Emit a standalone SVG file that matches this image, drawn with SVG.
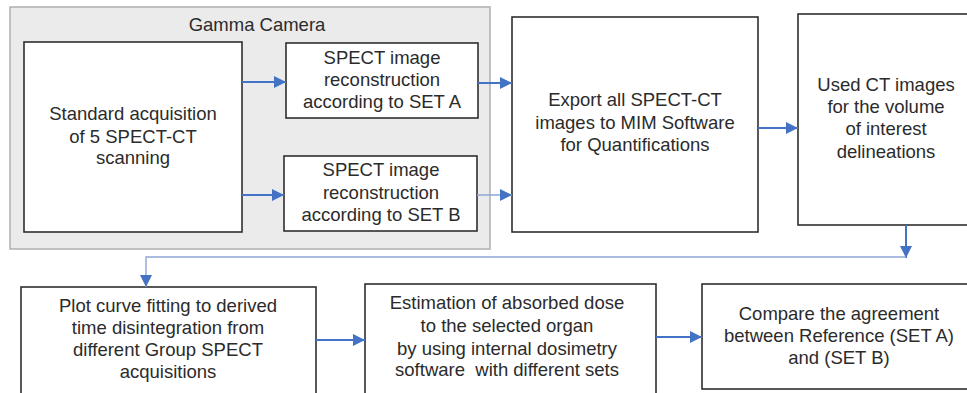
<svg xmlns="http://www.w3.org/2000/svg" width="967" height="393" viewBox="0 0 967 393">
  <style>
    .box { fill: #ffffff; stroke: #2f2f2f; stroke-width: 1.6; }
    .frame { fill: #ebebeb; stroke: #b4b4b4; stroke-width: 1.6; }
    text { font-family: "Liberation Sans", Arial, sans-serif; font-size: 18.5px; fill: #2b2b2b; text-anchor: middle; }
    .link { fill: none; stroke: #4472c4; stroke-width: 2; }
    .thin { fill: none; stroke: #8ea6d6; stroke-width: 1.4; }
  </style>
  <defs>
    <marker id="tip" viewBox="0 0 12 12" refX="12" refY="6" markerWidth="12" markerHeight="12" markerUnits="userSpaceOnUse" orient="auto">
      <path d="M0,0 L12,6 L0,12 Z" fill="#4472c4"/>
    </marker>
  </defs>

  <!-- Gamma camera enclosure -->
  <g id="gamma-camera">
    <rect class="frame" x="10" y="7" width="480" height="242"/>
    <text x="257" y="31">Gamma Camera</text>
  </g>

  <g id="acquisition">
    <rect class="box" x="24" y="42" width="218" height="190"/>
    <text x="133" y="120">Standard acquisition</text>
    <text x="133" y="143">of 5 SPECT-CT</text>
    <text x="133" y="164">scanning</text>
  </g>

  <g id="recon-a">
    <rect class="box" x="286" y="43" width="192" height="75"/>
    <text x="382" y="64">SPECT image</text>
    <text x="382" y="86">reconstruction</text>
    <text x="382" y="108">according to SET A</text>
  </g>

  <g id="recon-b">
    <rect class="box" x="284" y="156" width="193" height="75"/>
    <text x="381" y="176">SPECT image</text>
    <text x="381" y="199">reconstruction</text>
    <text x="381" y="221">according to SET B</text>
  </g>

  <g id="export">
    <rect class="box" x="512" y="17" width="246" height="215"/>
    <text x="635" y="106">Export all SPECT-CT</text>
    <text x="635" y="129">images to MIM Software</text>
    <text x="635" y="151">for Quantifications</text>
  </g>

  <g id="ct-delineation">
    <rect class="box" x="798" y="14" width="175" height="211"/>
    <text x="886" y="91">Used CT images</text>
    <text x="886" y="113">for the volume</text>
    <text x="886" y="135">of interest</text>
    <text x="886" y="158">delineations</text>
  </g>

  <g id="curve-fitting">
    <rect class="box" x="21" y="287" width="295" height="110"/>
    <text x="168" y="312">Plot curve fitting to derived</text>
    <text x="168" y="334">time disintegration from</text>
    <text x="168" y="356">different Group SPECT</text>
    <text x="168" y="378">acquisitions</text>
  </g>

  <g id="dose-estimation">
    <rect class="box" x="365" y="284" width="291" height="113"/>
    <text x="507" y="309">Estimation of absorbed dose</text>
    <text x="507" y="332">to the selected organ</text>
    <text x="507" y="355">by using internal dosimetry</text>
    <text x="507" y="376">software&#160; with different sets</text>
  </g>

  <g id="comparison">
    <rect class="box" x="702" y="284" width="271" height="105"/>
    <text x="839" y="320">Compare the agreement</text>
    <text x="839" y="342">between Reference (SET A)</text>
    <text x="839" y="364">and (SET B)</text>
  </g>

  <!-- Connectors -->
  <g id="connectors">
    <path class="link" d="M242,82 H286" marker-end="url(#tip)"/>
    <path class="link" d="M242,195 H284" marker-end="url(#tip)"/>
    <path class="link" d="M478,83 H512" marker-end="url(#tip)"/>
    <path class="thin" d="M477,195 H512" marker-end="url(#tip)"/>
    <path class="link" d="M758,128 H798" marker-end="url(#tip)"/>
    <path class="link" d="M906,225 V258" marker-end="url(#tip)"/>
    <path class="thin" d="M906,257 H146 V287" marker-end="url(#tip)"/>
    <path class="link" d="M316,340 H365" marker-end="url(#tip)"/>
    <path class="link" d="M656,337 H702" marker-end="url(#tip)"/>
  </g>
</svg>
